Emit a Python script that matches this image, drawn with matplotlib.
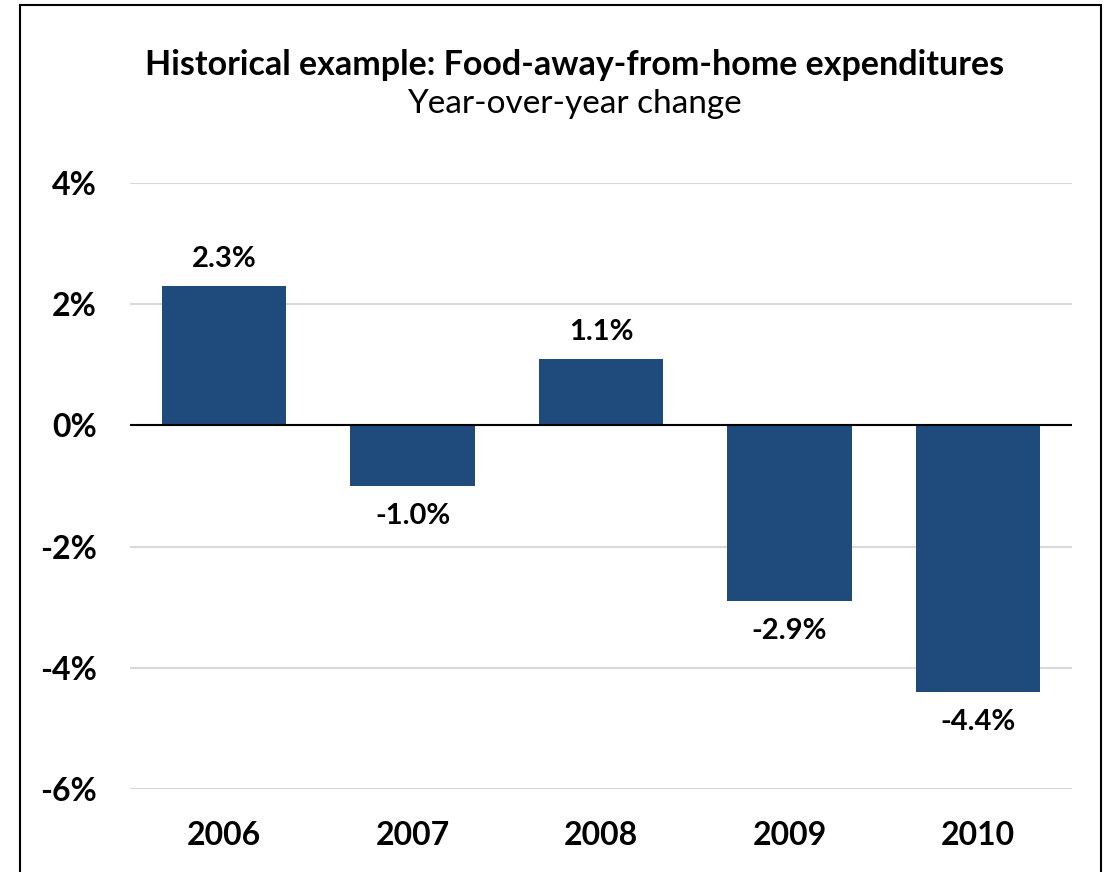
import matplotlib.pyplot as plt
from matplotlib.patches import Rectangle
from matplotlib.ticker import FuncFormatter

plt.rcParams['font.family'] = ['Lato', 'DejaVu Sans']

# === Data ===
years = ["2006", "2007", "2008", "2009", "2010"]
yoy_change = [2.3, -1.0, 1.1, -2.9, -4.4]
y_ticks = [-6, -4, -2, 0, 2, 4]

bar_color = "#1F4A7C"

fig = plt.figure(figsize=(11.07, 8.72), dpi=100)
ax = fig.add_axes([0.1174, 0.0952, 0.851, 0.695])

x = range(len(years))
bars = ax.bar(x, yoy_change, width=0.66, color=bar_color, zorder=3)

ax.set_xlim(-0.5, len(years) - 0.5)
ax.set_ylim(-6, 4)
ax.set_yticks(y_ticks)
ax.yaxis.set_major_formatter(FuncFormatter(lambda v, p: f"{v:.0f}%"))
ax.grid(axis="y", color="#d9d9d9", linewidth=1.5, zorder=0)
ax.axhline(0, color="black", linewidth=1.5, zorder=4)

for s in ax.spines.values():
    s.set_visible(False)
ax.tick_params(axis="both", length=0)
ax.tick_params(axis="y", pad=24, labelsize=23)
ax.tick_params(axis="x", pad=23, labelsize=23)
ax.set_xticks(list(x))
ax.set_xticklabels(years)
for lbl in ax.get_xticklabels() + ax.get_yticklabels():
    lbl.set_fontweight("bold")

# value labels
for i, v in enumerate(yoy_change):
    if v >= 0:
        ax.annotate(f"{v:.1f}%", (i, v), xytext=(0, 10), textcoords="offset points",
                    ha="center", va="bottom", fontsize=21, fontweight="bold")
    else:
        ax.annotate(f"{v:.1f}%", (i, v), xytext=(0, -12), textcoords="offset points",
                    ha="center", va="top", fontsize=21, fontweight="bold")

fig.text(0.519, 0.926, "Historical example: Food-away-from-home expenditures",
         ha="center", va="center", fontsize=24.5, fontweight="bold")
fig.text(0.519, 0.881, "Year-over-year change", ha="center", va="center", fontsize=24)

# outer frame
fig.patches.append(Rectangle((20 / 1107, -0.05), 1081 / 1107, 1.044, transform=fig.transFigure,
                             fill=False, edgecolor="black", linewidth=1.5))

fig.savefig("out.png", dpi=100)
